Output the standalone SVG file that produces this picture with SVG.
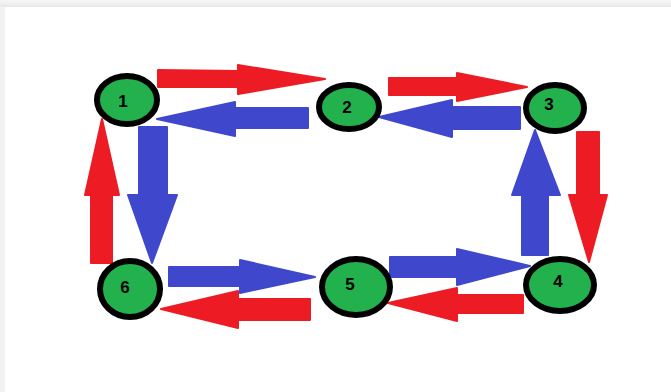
<svg xmlns="http://www.w3.org/2000/svg" width="671" height="392" viewBox="0 0 671 392">
<defs>
<style>
.red{fill:#ed1c24;stroke:#ed1c24;stroke-width:2;stroke-linejoin:round}
.blue{fill:#3f48cc;stroke:#3f48cc;stroke-width:2;stroke-linejoin:round}
.node ellipse{fill:#22b14c;stroke:#000;stroke-width:6}
.node text{font-family:"Liberation Sans",Arial,sans-serif;font-size:17px;font-weight:bold;fill:#000;text-anchor:middle;dominant-baseline:central}
</style>
<linearGradient id="bgt" x1="0" y1="0" x2="0" y2="1"><stop offset="0" stop-color="#f7f7f7"/><stop offset="1" stop-color="#e8e8e8"/></linearGradient>
</defs>
<rect x="0" y="0" width="671" height="392" fill="#f2f2f2"/>
<rect x="0" y="0" width="671" height="7" fill="url(#bgt)"/>
<rect x="5" y="7" width="666" height="385" fill="#fff"/>
<g id="connectors">
<polygon class="red" points="158,70 238,71 238,65 325,79 238,94 238,87 158,87"/>
<polygon class="blue" points="308,108 235,108 235,102 157,119 235,136 235,128 308,128"/>
<polygon class="red" points="389,78 457,78 457,73 527,87 457,101 457,95 389,95"/>
<polygon class="blue" points="520,107 452,107 452,100 379,117 452,137 452,129 520,129"/>
<polygon class="red" points="91,263 91,195 85,195 102,119 119,195 112,195 112,263"/>
<polygon class="blue" points="139,127 167,127 167,195 177,195 152,263 128,195 139,195"/>
<polygon class="blue" points="522,255 522,195 512,195 535,130 560,195 548,195 548,255"/>
<polygon class="red" points="577,132 599,132 599,195 607,195 589,262 569,195 577,195"/>
<polygon class="blue" points="169,267 240,267 240,260 315,277 240,293 240,286 169,286"/>
<polygon class="red" points="310,299 238,299 238,291 161,309 238,328 238,320 310,320"/>
<polygon class="blue" points="390,257 457,257 457,249 530,266 457,285 457,277 390,277"/>
<polygon class="red" points="523,295 457,295 457,288 388,303 457,321 457,313 523,313"/>
</g>
<g id="node1" class="node"><ellipse cx="127" cy="100" rx="30" ry="24"/><text x="123" y="101">1</text></g>
<g id="node2" class="node"><ellipse cx="349" cy="107" rx="30" ry="22"/><text x="347" y="107">2</text></g>
<g id="node3" class="node"><ellipse cx="555" cy="108" rx="29" ry="23"/><text x="549" y="104">3</text></g>
<g id="node4" class="node"><ellipse cx="560" cy="285" rx="34" ry="26"/><text x="558" y="281">4</text></g>
<g id="node5" class="node"><ellipse cx="356" cy="287" rx="34" ry="28"/><text x="350" y="284">5</text></g>
<g id="node6" class="node"><ellipse cx="130" cy="289" rx="30" ry="28"/><text x="125" y="287">6</text></g>
</svg>
